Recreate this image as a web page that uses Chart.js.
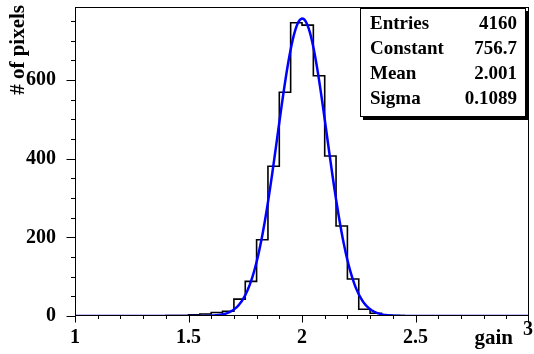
<!DOCTYPE html>
<html>
<head>
<meta charset="utf-8">
<script src="https://cdn.jsdelivr.net/npm/chart.js@4.4.0/dist/chart.umd.min.js"></script>
<style>
  html, body { margin: 0; padding: 0; background: #fff; }
  #c { display: block; }
</style>
</head>
<body>
<canvas id="c" width="534" height="354"></canvas>
<script>
// gain distribution: 40 bins of width 0.05 between 1 and 3
var histMin = 1.0;
var histMax = 3.0;
var binWidth = 0.05;
var counts = [0, 0, 0, 0, 0, 0, 0, 0,
  1, 1, 3, 5, 9, 12, 43, 88, 194, 381, 569, 746, 740, 611, 407, 229, 94, 17, 7, 2, 1,
  0, 0, 0, 0, 0, 0, 0, 0, 0, 0, 0];

// stat box
var statNames = ['Entries', 'Constant', 'Mean', 'Sigma'];
var statValues = ['4160', '756.7', '2.001', '0.1089'];

// axes
var xTicks = [1, 1.5, 2, 2.5, 3];
var yTicks = [0, 200, 400, 600];
var yMax = 786;

var serif = '"Liberation Serif", "DejaVu Serif", serif';

// histogram outline, one point per low edge plus the last upper edge
var histPts = [];
for (var i = 0; i < counts.length; i++) {
  histPts.push({x: histMin + i * binWidth, y: counts[i]});
}
histPts.push({x: histMax, y: counts[counts.length - 1]});

// gaus fit from the stat box parameters
var fitC = parseFloat(statValues[1]);
var fitMean = parseFloat(statValues[2]);
var fitSigma = parseFloat(statValues[3]);
var fitPts = [];
for (var k = 0; k <= 400; k++) {
  var xv = histMin + (histMax - histMin) * k / 400;
  var d = (xv - fitMean) / fitSigma;
  fitPts.push({x: xv, y: fitC * Math.exp(-0.5 * d * d)});
}

function noPad(s) {
  s.paddingLeft = 0; s.paddingRight = 0;
  s.paddingTop = 0; s.paddingBottom = 0;
}

var framePlugin = {
  id: 'frame',
  afterDatasetsDraw: function (chart) {
    var ctx = chart.ctx;
    var a = chart.chartArea;
    var sx = chart.scales.x, sy = chart.scales.y;
    var L = Math.round(a.left) + 0.5, R = Math.round(a.right) - 0.5;
    var T = Math.round(a.top) + 0.5, B = Math.round(a.bottom) - 0.5;
    ctx.save();
    ctx.strokeStyle = '#000';
    ctx.lineWidth = 1;
    ctx.strokeRect(L, T, R - L, B - T);

    // tick marks
    ctx.beginPath();
    for (var k = 0; k <= 20; k++) {
      var px = Math.round(sx.getPixelForValue(1 + k * 0.1)) + 0.5;
      if (k == 20) px = R;
      var len = (k % 5 == 0) ? 7 : 3.5;
      ctx.moveTo(px, B);
      ctx.lineTo(px, B + len);
    }
    for (var v = 0; v <= yMax; v += 50) {
      var py = Math.round(sy.getPixelForValue(v)) + 0.5;
      var ylen = (v % 200 == 0) ? 9 : 4.5;
      ctx.moveTo(L - ylen, py);
      ctx.lineTo(L, py);
    }
    ctx.stroke();

    // last x label sits a little higher, next to the axis title
    ctx.fillStyle = '#000';
    ctx.font = 'bold 20px ' + serif;
    ctx.textAlign = 'center';
    ctx.textBaseline = 'alphabetic';
    ctx.fillText(String(xTicks[xTicks.length - 1]), sx.getPixelForValue(histMax) - 1, 335);

    // axis titles
    ctx.font = 'bold 21px ' + serif;
    ctx.textAlign = 'right';
    ctx.fillText('gain', 513, 344);
    ctx.save();
    ctx.translate(24, 5);
    ctx.rotate(-Math.PI / 2);
    ctx.fillText('# of pixels', 0, 0);
    ctx.restore();

    // stat box with shadow
    var bx = 360, by = 8, bw = 166, bh = 109;
    ctx.fillStyle = '#000';
    ctx.fillRect(bx + 3, by + 3, bw, bh);
    ctx.fillStyle = '#fff';
    ctx.fillRect(bx, by, bw, bh);
    ctx.strokeRect(bx + 0.5, by + 0.5, bw - 1, bh - 1);
    ctx.fillStyle = '#000';
    ctx.font = 'bold 19px ' + serif;
    for (var r = 0; r < statNames.length; r++) {
      var base = 29 + r * 25;
      ctx.textAlign = 'left';
      ctx.fillText(statNames[r], 370, base);
      ctx.textAlign = 'right';
      ctx.fillText(statValues[r], 517, base);
    }
    ctx.restore();
  }
};

new Chart(document.getElementById('c'), {
  type: 'line',
  data: {
    datasets: [{
      data: fitPts,
      borderColor: '#0000ff',
      borderWidth: 2.5,
      pointRadius: 0,
      tension: 0,
      fill: false
    }, {
      data: histPts,
      borderColor: '#000',
      borderWidth: 1.6,
      pointRadius: 0,
      stepped: 'before',
      fill: false
    }]
  },
  options: {
    responsive: false,
    animation: false,
    devicePixelRatio: 1,
    layout: {padding: {top: 7, right: 5, left: 0, bottom: 0}},
    plugins: {legend: {display: false}, tooltip: {enabled: false}},
    scales: {
      x: {
        type: 'linear',
        min: histMin,
        max: histMax,
        grid: {display: false},
        border: {display: false},
        afterBuildTicks: function (s) {
          s.ticks = xTicks.map(function (v) { return {value: v}; });
        },
        afterFit: function (s) { s.height = 38; noPad(s); },
        ticks: {
          autoSkip: false,
          maxRotation: 0,
          padding: 2,
          color: '#000',
          font: {family: serif, size: 20, weight: 'bold'},
          callback: function (v) { return v == histMax ? '' : String(v); }
        }
      },
      y: {
        min: 0,
        max: yMax,
        grid: {display: false},
        border: {display: false},
        afterBuildTicks: function (s) {
          s.ticks = yTicks.map(function (v) { return {value: v}; });
        },
        afterFit: function (s) { s.width = 75; noPad(s); },
        ticks: {
          padding: 11,
          color: '#000',
          font: {family: serif, size: 20, weight: 'bold'},
          callback: function (v) { return String(v); }
        }
      }
    }
  },
  plugins: [framePlugin]
});
</script>
</body>
</html>
